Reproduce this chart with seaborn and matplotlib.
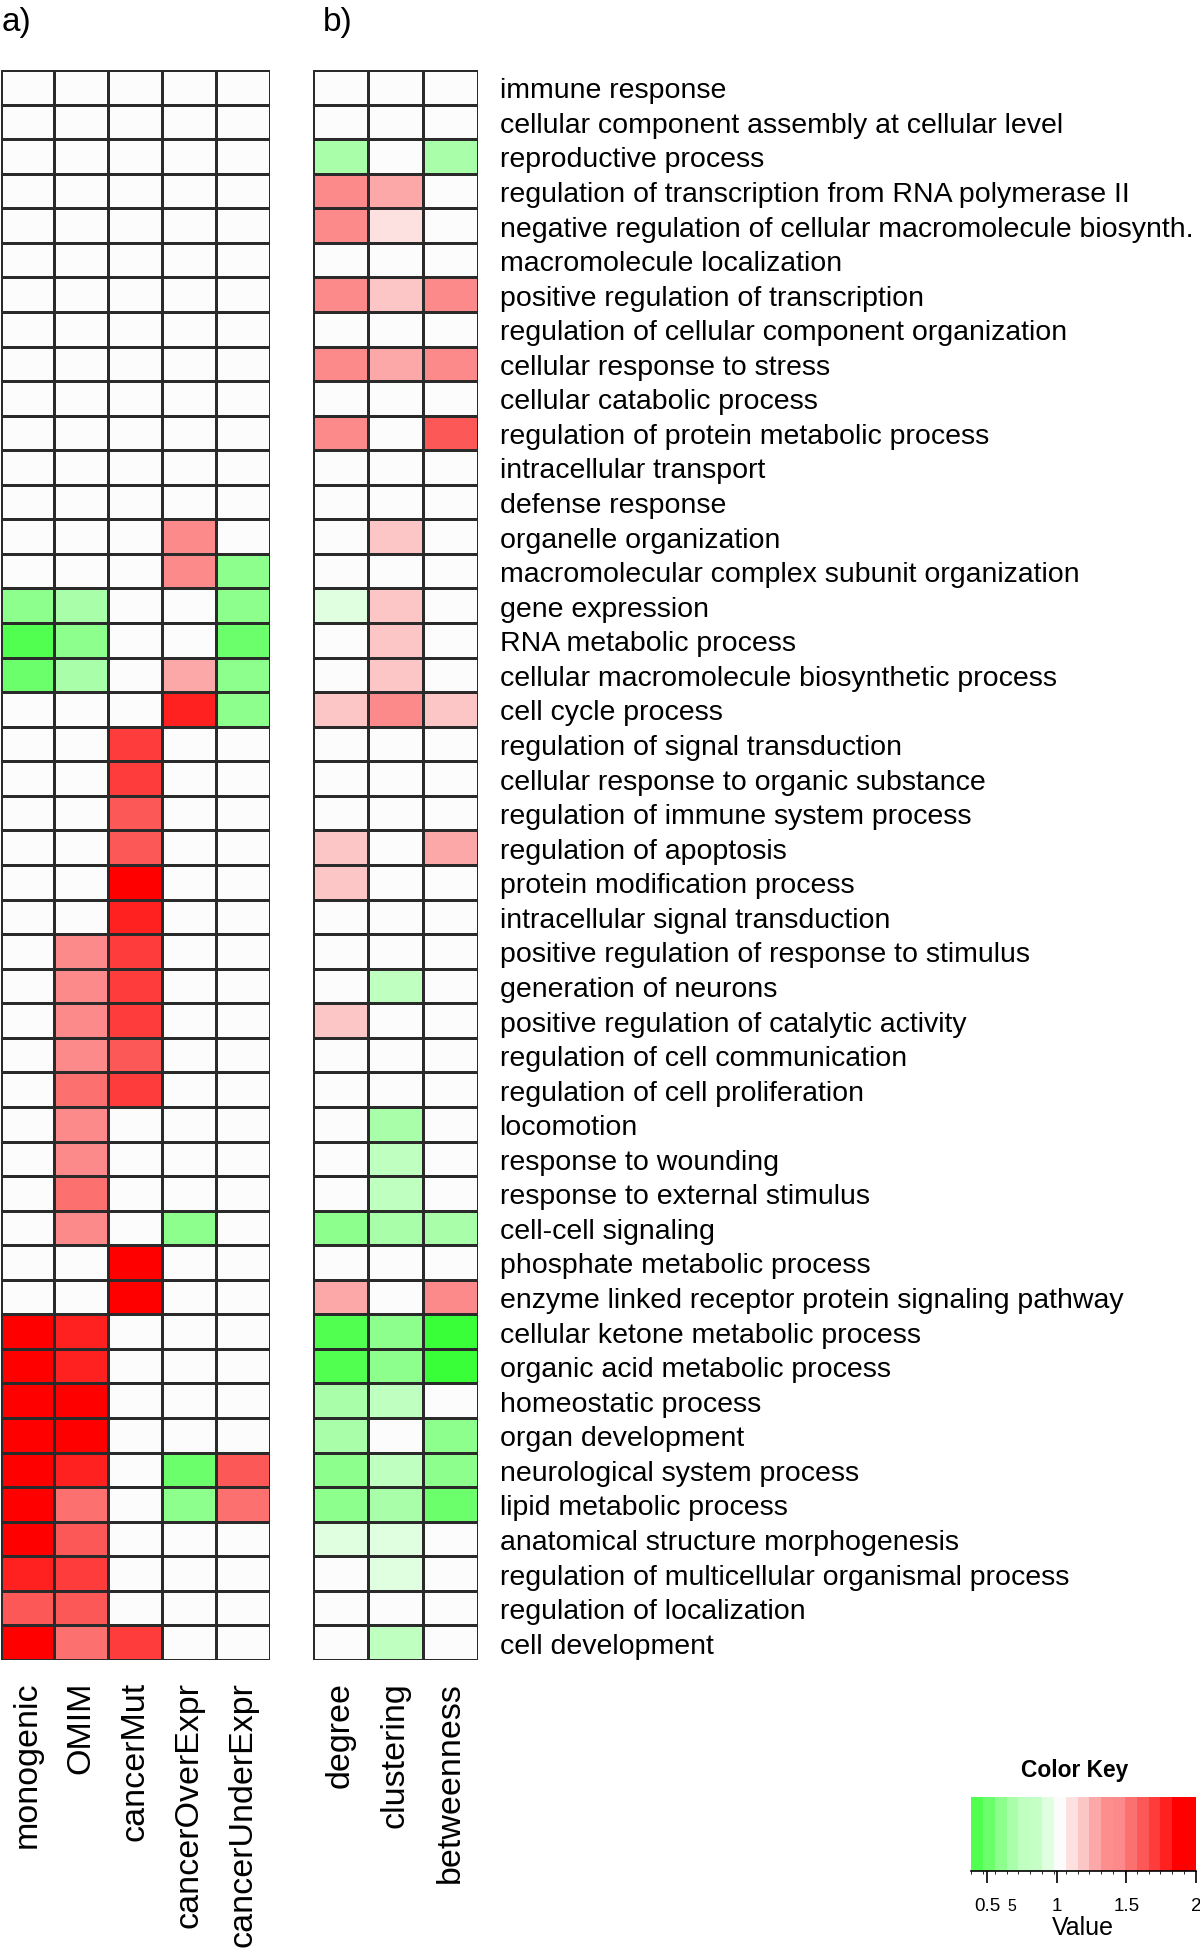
import numpy as np
import pandas as pd
import matplotlib.pyplot as plt
from matplotlib import font_manager
from matplotlib.colors import ListedColormap, BoundaryNorm
import seaborn as sns

##%% data
terms = [
    "immune response", "cellular component assembly at cellular level",
    "reproductive process", "regulation of transcription from RNA polymerase II",
    "negative regulation of cellular macromolecule biosynth.",
    "macromolecule localization", "positive regulation of transcription",
    "regulation of cellular component organization", "cellular response to stress",
    "cellular catabolic process", "regulation of protein metabolic process",
    "intracellular transport", "defense response", "organelle organization",
    "macromolecular complex subunit organization", "gene expression",
    "RNA metabolic process", "cellular macromolecule biosynthetic process",
    "cell cycle process", "regulation of signal transduction",
    "cellular response to organic substance", "regulation of immune system process",
    "regulation of apoptosis", "protein modification process",
    "intracellular signal transduction", "positive regulation of response to stimulus",
    "generation of neurons", "positive regulation of catalytic activity",
    "regulation of cell communication", "regulation of cell proliferation",
    "locomotion", "response to wounding", "response to external stimulus",
    "cell-cell signaling", "phosphate metabolic process",
    "enzyme linked receptor protein signaling pathway",
    "cellular ketone metabolic process", "organic acid metabolic process",
    "homeostatic process", "organ development", "neurological system process",
    "lipid metabolic process", "anatomical structure morphogenesis",
    "regulation of multicellular organismal process", "regulation of localization",
    "cell development",
]

cols_a = ["monogenic", "OMIM", "cancerMut", "cancerOverExpr", "cancerUnderExpr"]
cols_b = ["degree", "clustering", "betweenness"]

# panel a, one list per column (46 rows, top to bottom)
monogenic = [1, 1, 1, 1, 1, 1, 1, 1, 1, 1,
             1, 1, 1, 1, 1, 0.60, 0.43, 0.51, 1, 1,
             1, 1, 1, 1, 1, 1, 1, 1, 1, 1,
             1, 1, 1, 1, 1, 1, 1.9, 1.9, 1.9, 1.9,
             1.9, 1.9, 1.9, 1.79, 1.62, 1.9]
omim = [1, 1, 1, 1, 1, 1, 1, 1, 1, 1,
        1, 1, 1, 1, 1, 0.68, 0.60, 0.68, 1, 1,
        1, 1, 1, 1, 1, 1.45, 1.45, 1.45, 1.45, 1.53,
        1.45, 1.45, 1.53, 1.45, 1, 1, 1.79, 1.79, 1.9, 1.9,
        1.79, 1.53, 1.62, 1.70, 1.62, 1.53]
cancer_mut = [1, 1, 1, 1, 1, 1, 1, 1, 1, 1,
              1, 1, 1, 1, 1, 1, 1, 1, 1, 1.70,
              1.70, 1.62, 1.62, 1.95, 1.79, 1.70, 1.70, 1.70, 1.62, 1.70,
              1, 1, 1, 1, 1.95, 1.95, 1, 1, 1, 1,
              1, 1, 1, 1, 1, 1.70]
cancer_over = [1, 1, 1, 1, 1, 1, 1, 1, 1, 1,
               1, 1, 1, 1.45, 1.45, 1, 1, 1.28, 1.79, 1,
               1, 1, 1, 1, 1, 1, 1, 1, 1, 1,
               1, 1, 1, 0.60, 1, 1, 1, 1, 1, 1,
               0.51, 0.60, 1, 1, 1, 1]
cancer_under = [1, 1, 1, 1, 1, 1, 1, 1, 1, 1,
                1, 1, 1, 1, 0.60, 0.60, 0.51, 0.60, 0.60, 1,
                1, 1, 1, 1, 1, 1, 1, 1, 1, 1,
                1, 1, 1, 1, 1, 1, 1, 1, 1, 1,
                1.62, 1.53, 1, 1, 1, 1]

# panel b
degree = [1, 1, 0.68, 1.45, 1.45, 1, 1.45, 1, 1.45, 1,
          1.45, 1, 1, 1, 1, 0.94, 1, 1, 1.19, 1,
          1, 1, 1.19, 1.19, 1, 1, 1, 1.19, 1, 1,
          1, 1, 1, 0.60, 1, 1.28, 0.43, 0.43, 0.68, 0.68,
          0.60, 0.60, 0.94, 1, 1, 1]
clustering = [1, 1, 1, 1.28, 1.11, 1, 1.19, 1, 1.28, 1,
              1, 1, 1, 1.19, 1, 1.19, 1.19, 1.19, 1.45, 1,
              1, 1, 1, 1, 1, 1, 0.77, 1, 1, 1,
              0.68, 0.77, 0.77, 0.68, 1, 1, 0.60, 0.60, 0.77, 1,
              0.77, 0.68, 0.94, 0.94, 1, 0.77]
betweenness = [1, 1, 0.68, 1, 1, 1, 1.45, 1, 1.45, 1,
               1.62, 1, 1, 1, 1, 1, 1, 1, 1.19, 1,
               1, 1, 1.28, 1, 1, 1, 1, 1, 1, 1,
               1, 1, 1, 0.68, 1, 1.45, 0.36, 0.36, 1, 0.60,
               0.60, 0.51, 1, 1, 1, 1]

# color key: 19 bands green -> white -> red
key_colors = ["#50ff50", "#6cff6c", "#8cff8c", "#a9ffa9", "#bfffbf", "#c6ffc6",
              "#e0ffe0", "#fcfcfc", "#fde0e0", "#fcc6c6", "#fca8a8", "#fc8e8e",
              "#fc8a8a", "#fc7070", "#fc5858", "#ff3c3c", "#ff2020", "#ff0000",
              "#ff0000"]
key_edges = np.linspace(0.385, 2.0, 20)
key_ticks = [0.5, 1, 1.5, 2]

##%% fonts
installed = {f.name for f in font_manager.fontManager.ttflist}
if "Liberation Sans Narrow" in installed:
    narrow, k = "Liberation Sans Narrow", 1.0
else:
    narrow, k = "Liberation Sans", 0.82
plt.rcParams["font.family"] = ["Liberation Sans", "DejaVu Sans"]

df_a = pd.DataFrame({c: v for c, v in zip(cols_a, [monogenic, omim, cancer_mut, cancer_over, cancer_under])}, index=terms)
df_b = pd.DataFrame({c: v for c, v in zip(cols_b, [degree, clustering, betweenness])}, index=terms)

cmap = ListedColormap(key_colors)
cmap.set_under("#38ff38")
cmap.set_over("#ff0000")
norm = BoundaryNorm(key_edges, cmap.N)

W, H = 1200, 1949
fig = plt.figure(figsize=(W / 100, H / 100), dpi=100)

top, bot = 71, 1661
ax_a = fig.add_axes([0.5 / W, 1 - bot / H, 269 / W, (bot - top) / H])
ax_b = fig.add_axes([313 / W, 1 - bot / H, 165 / W, (bot - top) / H])
ax_key = fig.add_axes([971 / W, 1 - 1872 / H, 225 / W, 74 / H])

grid = dict(cmap=cmap, norm=norm, linewidths=0.9, linecolor="#2a2a2a")
sns.heatmap(df_a, ax=ax_a, cbar=False, yticklabels=False, **grid)
sns.heatmap(df_b, ax=ax_b, cbar=True, cbar_ax=ax_key,
            cbar_kws={"orientation": "horizontal", "ticks": key_ticks, "spacing": "proportional"},
            **grid)

for ax in (ax_a, ax_b):
    ax.tick_params(length=0)
    ax.tick_params(axis="x", pad=15, labelsize=24.5)
    plt.setp(ax.get_xticklabels(), rotation=90, ha="center", va="top")

ax_b.yaxis.tick_right()
ax_b.tick_params(axis="y", pad=15.5, labelsize=25 * k)
plt.setp(ax_b.get_yticklabels(), rotation=0, ha="left", va="center_baseline", family=narrow)

# color key
cbar = ax_b.collections[0].colorbar
cbar.outline.set_visible(False)
ax_key.axhline(0, color="black", lw=1.2, clip_on=False)
ax_key.tick_params(axis="x", length=8.5, width=1.2, direction="out", pad=10)
ax_key.set_xticklabels(["0.5", "1", "1.5", "2"], fontsize=16.5 * k, family=narrow)

fig.text(1075 / W, 1 - 1771 / H, "Color Key", ha="center", va="center",
         fontsize=20 * k, fontweight="bold", family=narrow)
fig.text(1083 / W, 1 - 1928 / H, "Value", ha="center", va="center", fontsize=22 * k, family=narrow)
fig.text(1012 / W, 1 - 1907 / H, "5", ha="center", va="center", fontsize=14 * k, family=narrow)

fig.text(2 / W, 1 - 22 / H, "a)", ha="left", va="center", fontsize=24)
fig.text(323 / W, 1 - 22 / H, "b)", ha="left", va="center", fontsize=24)

plt.savefig("out.png", dpi=100, facecolor="white")
